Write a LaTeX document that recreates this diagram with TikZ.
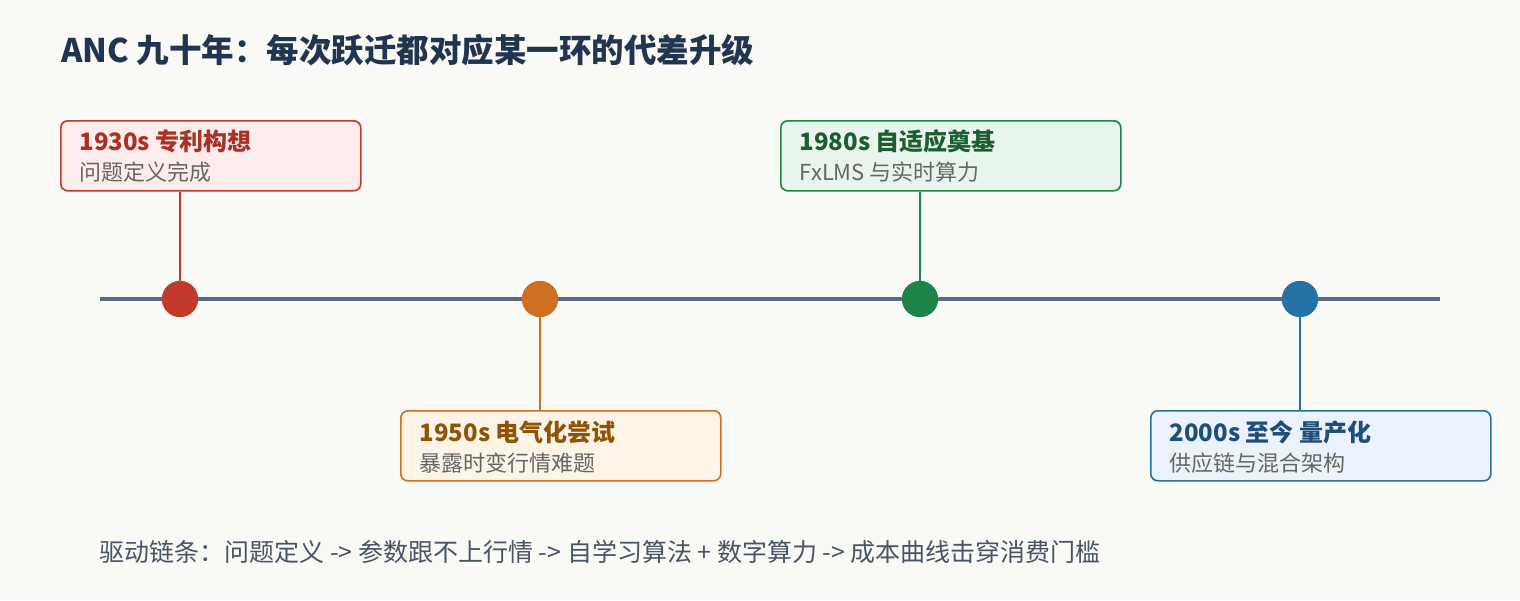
\documentclass[tikz,border=0pt]{standalone}
\usepackage{fontspec}
\setmainfont{Noto Sans CJK SC}
\begin{document}
\begin{tikzpicture}[x=1pt,y=-1pt,
 box/.style={draw=#1,line width=1.6pt,rounded corners=7pt},
 ttl/.style={anchor=west,font=\fontsize{24}{28}\selectfont\bfseries},
 sub/.style={anchor=west,font=\fontsize{22}{26}\selectfont,text=subc},
 dot/.style={circle,fill=#1,minimum size=36pt,inner sep=0pt},
 stem/.style={draw=#1,line width=2.2pt}]
\definecolor{bg}{HTML}{F9F9F5}
\definecolor{navy}{HTML}{1F3550}
\definecolor{axis}{HTML}{5A6A80}
\definecolor{subc}{HTML}{666666}
\definecolor{cr}{HTML}{C0392B}\definecolor{co}{HTML}{CF7020}
\definecolor{cg}{HTML}{1E8449}\definecolor{cb}{HTML}{2471A3}
\definecolor{fr}{HTML}{FDECEC}\definecolor{fo}{HTML}{FDF3E6}
\definecolor{fg}{HTML}{E8F5EC}\definecolor{fb}{HTML}{EAF2FB}
\definecolor{tr}{HTML}{A93226}\definecolor{to}{HTML}{8E5408}
\definecolor{tg}{HTML}{1D5E30}\definecolor{tb}{HTML}{1F4E79}
\fill[bg] (0,0) rectangle (1520,600);
\useasboundingbox (0,0) rectangle (1520,600);
\node[anchor=west,text=navy,font=\fontsize{32.5}{38}\selectfont\bfseries] (title) at (58,50) {ANC 九十年：每次跃迁都对应某一环的代差升级};
\coordinate (l0) at (100,299); \coordinate (l1) at (1440,299);
\draw[axis,line width=3.5pt] (l0)--(l1);
\node[box=cr,fill=fr,minimum width=300pt,minimum height=70pt,anchor=north west] (b1) at (60,120) {};
\node[box=co,fill=fo,minimum width=320pt,minimum height=70pt,anchor=north west] (b2) at (400,410) {};
\node[box=cg,fill=fg,minimum width=340pt,minimum height=70pt,anchor=north west] (b3) at (780,120) {};
\node[box=cb,fill=fb,minimum width=340pt,minimum height=70pt,anchor=north west] (b4) at (1150,410) {};
\node[dot=cr] (d1) at (180,299) {};
\node[dot=co] (d2) at (540,299) {};
\node[dot=cg] (d3) at (920,299) {};
\node[dot=cb] (d4) at (1300,299) {};
\draw[stem=cr] (d1.center)--(d1.center|-b1.south);
\draw[stem=co] (d2.center)--(d2.center|-b2.north);
\draw[stem=cg] (d3.center)--(d3.center|-b3.south);
\draw[stem=cb] (d4.center)--(d4.center|-b4.north);
\node[dot=cr] at (d1) {};\node[dot=co] at (d2) {};\node[dot=cg] at (d3) {};\node[dot=cb] at (d4) {};
\node[ttl,text=tr] (t1) at (76,141) {1930s 专利构想};
\node[sub] (s1) at (76,172) {问题定义完成};
\node[ttl,text=to] (t2) at (416,432) {1950s 电气化尝试};
\node[sub] (s2) at (416,463) {暴露时变行情难题};
\node[ttl,text=tg] (t3) at (796,141) {1980s 自适应奠基};
\node[sub] (s3) at (796,172) {FxLMS 与实时算力};
\node[ttl,text=tb] (t4) at (1166,432) {2000s 至今 量产化};
\node[sub] (s4) at (1166,463) {供应链与混合架构};
\node[anchor=west,text=axis!80!black,font=\fontsize{25}{30}\selectfont] (foot) at (96,552) {驱动链条：问题定义 -> 参数跟不上行情 -> 自学习算法 + 数字算力 -> 成本曲线击穿消费门槛};
\end{tikzpicture}
\end{document}
